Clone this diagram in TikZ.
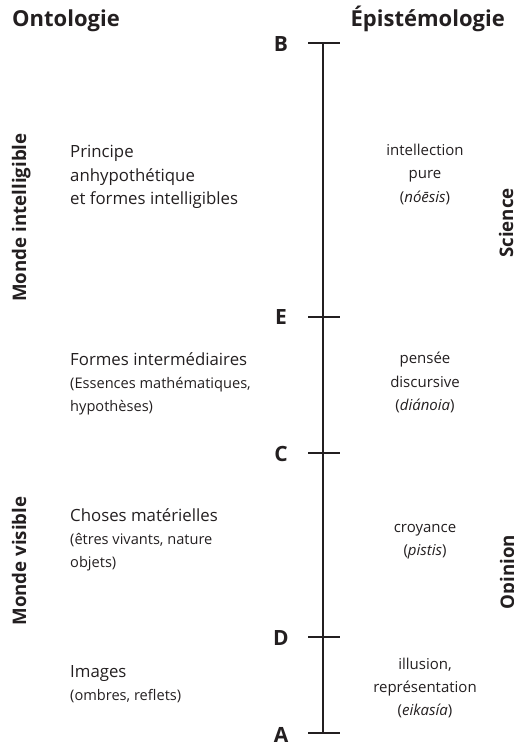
\documentclass[tikz,border=0pt]{standalone}
\usepackage{fontspec}
\setmainfont{Open Sans}
\begin{document}
\begin{tikzpicture}[x=1pt,y=-1pt,
  ink/.style={text=textc},
  title/.style={ink,font=\fontsize{22}{22}\selectfont\bfseries,inner sep=0pt},
  pt/.style={ink,font=\fontsize{21}{21}\selectfont\bfseries,inner sep=0pt,anchor=base},
  side/.style={ink,font=\fontsize{18.7}{18.7}\selectfont\bfseries,inner sep=0pt,rotate=90,anchor=base},
  mainl/.style={ink,font=\fontsize{16.8}{16.8}\selectfont,inner sep=0pt,anchor=base west},
  subl/.style={ink,font=\fontsize{14.6}{14.6}\selectfont,inner sep=0pt,anchor=base west},
  subr/.style={ink,font=\fontsize{15}{15}\selectfont,inner sep=0pt,anchor=base},
  axis/.style={draw=textc,line width=2pt},
  tick/.style={draw=textc,line width=2pt}]
\definecolor{textc}{RGB}{35,31,32}
\useasboundingbox (0,0) rectangle (514,742);
% titles
\node[title,anchor=base west] (onto) at (12,26) {Ontologie};
\node[title,anchor=base east] (epis) at (505,26) {Épistémologie};
% axis coordinates
\coordinate (cB) at (323,43);
\coordinate (cE) at (323,317);
\coordinate (cC) at (323,453);
\coordinate (cD) at (323,637);
\coordinate (cA) at (323,733);
\draw[axis] (cB) -- (cA);
\foreach \p in {B,E,C,D,A}{
  \draw[tick] ([xshift=-15pt]c\p) -- ([xshift=17pt]c\p);
}
\node[pt] (lB) at (281,51.5) {B};
\node[pt] (lE) at (281,324) {E};
\node[pt] (lC) at (281,461) {C};
\node[pt] (lD) at (281,645.5) {D};
\node[pt] (lA) at (281,742) {A};
% side labels
\node[side] (mi) at (26,217.5) {Monde intelligible};
\node[side] (mv) at (26,561) {Monde visible};
\node[side] (sc) at (513,223) {Science};
\node[side] (op) at (514,572) {Opinion};
% left texts
\node[mainl] (t1a) at (70,157) {Principe};
\node[mainl] (t1b) at (70,181) {anhypothétique};
\node[mainl] (t1c) at (70,204) {et formes intelligibles};
\node[mainl] (t2a) at (70,365) {Formes intermédiaires};
\node[subl] (t2b) at (70,388) {(Essences mathématiques,};
\node[subl] (t2c) at (70,411) {hypothèses)};
\node[mainl] (t3a) at (70,521) {Choses matérielles};
\node[subl] (t3b) at (70,544) {(êtres vivants, nature};
\node[subl] (t3c) at (70,567) {objets)};
\node[mainl] (t4a) at (70,677) {Images};
\node[subl] (t4b) at (70,700) {(ombres, reflets)};
% right texts
\node[subr] (r1a) at (425,155) {intellection};
\node[subr] (r1b) at (425,178.5) {pure};
\node[subr] (r1c) at (425,202) {(\textit{nóēsis})};
\node[subr] (r2a) at (425,363) {pensée};
\node[subr] (r2b) at (425,387) {discursive};
\node[subr] (r2c) at (425,410) {(\textit{diánoia})};
\node[subr] (r3a) at (425,532) {croyance};
\node[subr] (r3b) at (425,555) {(\textit{pistis})};
\node[subr] (r4a) at (425,669) {illusion,};
\node[subr] (r4b) at (425,692) {représentation};
\node[subr] (r4c) at (425,715) {(\textit{eikasía})};
\end{tikzpicture}
\end{document}
